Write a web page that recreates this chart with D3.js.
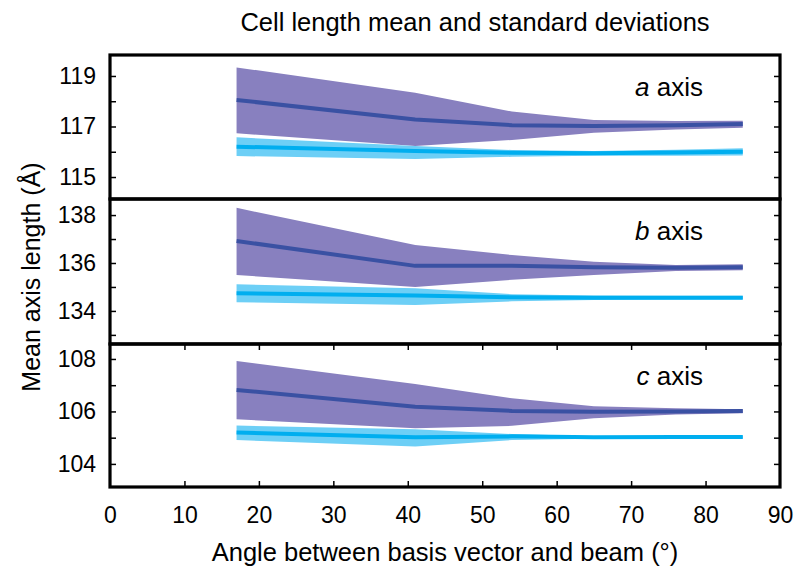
<!DOCTYPE html>
<html>
<head>
<meta charset="utf-8">
<script src="https://cdn.jsdelivr.net/npm/d3@7/dist/d3.min.js"></script>
<style>
  body { margin: 0; background: #fff; }
  svg { display: block; font-family: "Liberation Sans", Arial, Helvetica, sans-serif; }
</style>
</head>
<body>
<svg id="chart" width="796" height="567"></svg>
<script>
// ---- data ----
const angles = [17, 41, 54, 65, 76, 85];
const xTicks = [0, 10, 20, 30, 40, 50, 60, 70, 80, 90];

const panelNames = ["a", "b", "c"];
const panelDomains = [[114.13, 119.83], [132.62, 138.67], [103.12, 108.57]];
const panelMinorTicks = [[115, 116, 117, 118, 119], [133, 134, 135, 136, 137, 138], [104, 105, 106, 107, 108]];
const panelLabelTicks = [[115, 117, 119], [134, 136, 138], [104, 106, 108]];

const aMeanDark  = [118.05, 117.28, 117.05, 117.02, 117.05, 117.10];
const aUpperDark = [119.34, 118.34, 117.59, 117.26, 117.22, 117.23];
const aLowerDark = [116.73, 116.23, 116.47, 116.75, 116.88, 116.95];
const aMeanCyan  = [116.20, 116.03, 115.96, 115.94, 115.97, 116.00];
const aUpperCyan = [116.57, 116.23, 116.07, 116.03, 116.08, 116.14];
const aLowerCyan = [115.83, 115.71, 115.80, 115.84, 115.84, 115.85];

const bMeanDark  = [136.92, 135.88, 135.89, 135.82, 135.80, 135.82];
const bUpperDark = [138.30, 136.75, 136.33, 136.05, 135.92, 135.95];
const bLowerDark = [135.50, 135.00, 135.30, 135.50, 135.67, 135.70];
const bMeanCyan  = [134.74, 134.64, 134.57, 134.55, 134.55, 134.55];
const bUpperCyan = [135.11, 134.95, 134.70, 134.64, 134.63, 134.63];
const bLowerCyan = [134.36, 134.25, 134.40, 134.46, 134.48, 134.49];

const cMeanDark  = [106.82, 106.18, 106.02, 105.99, 106.00, 106.02];
const cUpperDark = [107.92, 107.05, 106.50, 106.20, 106.12, 106.08];
const cLowerDark = [105.70, 105.36, 105.45, 105.74, 105.88, 105.93];
const cMeanCyan  = [105.20, 105.02, 105.05, 105.02, 105.03, 105.03];
const cUpperCyan = [105.46, 105.32, 105.14, 105.05, 105.06, 105.07];
const cLowerCyan = [104.91, 104.66, 104.91, 104.96, 104.97, 104.97];

const series = [
  {dm: aMeanDark, du: aUpperDark, dl: aLowerDark, cm: aMeanCyan, cu: aUpperCyan, cl: aLowerCyan},
  {dm: bMeanDark, du: bUpperDark, dl: bLowerDark, cm: bMeanCyan, cu: bUpperCyan, cl: bLowerCyan},
  {dm: cMeanDark, du: cUpperDark, dl: cLowerDark, cm: cMeanCyan, cu: cUpperCyan, cl: cLowerCyan}
];

// ---- layout ----
const left = 110, right = 780;
const panelTops = [55, 199, 344];
const panelBottoms = [199, 344, 487];

const colDarkBand = "#8880bf";
const colDarkLine = "#3a51a3";
const colCyanBand = "#6dcff6";
const colCyanLine = "#00aeef";

const svg = d3.select("#chart");
const x = d3.scaleLinear().domain([0, 90]).range([left, right]);

// title
svg.append("text").attr("x", 475).attr("y", 31).attr("text-anchor", "middle")
  .attr("font-size", 25.5).attr("fill", "#000")
  .text("Cell length mean and standard deviations");

const defs = svg.append("defs");

panelNames.forEach((name, i) => {
  const top = panelTops[i], bottom = panelBottoms[i];
  const y = d3.scaleLinear().domain(panelDomains[i]).range([bottom, top]);
  const s = series[i];
  const g = svg.append("g");

  defs.append("clipPath").attr("id", "clip" + i)
    .append("rect").attr("x", left).attr("y", top).attr("width", right - left).attr("height", bottom - top);
  const plot = g.append("g").attr("clip-path", `url(#clip${i})`);

  const idx = d3.range(angles.length);
  const areaDark = d3.area().x(j => x(angles[j])).y0(j => y(s.dl[j])).y1(j => y(s.du[j]));
  const areaCyan = d3.area().x(j => x(angles[j])).y0(j => y(s.cl[j])).y1(j => y(s.cu[j]));
  const lineDark = d3.line().x(j => x(angles[j])).y(j => y(s.dm[j]));
  const lineCyan = d3.line().x(j => x(angles[j])).y(j => y(s.cm[j]));

  plot.append("path").attr("d", areaDark(idx)).attr("fill", colDarkBand);
  plot.append("path").attr("d", areaCyan(idx)).attr("fill", colCyanBand);
  plot.append("path").attr("d", lineDark(idx)).attr("fill", "none")
    .attr("stroke", colDarkLine).attr("stroke-width", 4).attr("stroke-linejoin", "round");
  plot.append("path").attr("d", lineCyan(idx)).attr("fill", "none")
    .attr("stroke", colCyanLine).attr("stroke-width", 4).attr("stroke-linejoin", "round");

  // left axis: inward ticks, labels outside
  const labeled = new Set(panelLabelTicks[i]);
  const axL = d3.axisLeft(y).tickValues(panelMinorTicks[i]).tickSizeInner(-6).tickSizeOuter(0)
    .tickPadding(14).tickFormat(d => labeled.has(d) ? d : "");
  const gl = g.append("g").attr("transform", `translate(${left},0)`).call(axL);
  gl.select(".domain").remove();
  gl.selectAll("line").attr("stroke", "#000").attr("stroke-width", 1.5);
  gl.selectAll("text").attr("font-size", 23).attr("fill", "#000")
    .attr("font-family", "Liberation Sans, Arial, sans-serif");

  const axR = d3.axisRight(y).tickValues(panelMinorTicks[i]).tickSizeInner(-6).tickSizeOuter(0).tickFormat("");
  const gr = g.append("g").attr("transform", `translate(${right},0)`).call(axR);
  gr.select(".domain").remove();
  gr.selectAll("line").attr("stroke", "#000").attr("stroke-width", 1.5);

  if (i === 2) {
    const axT = d3.axisTop(x).tickValues(xTicks.slice(1, -1)).tickSizeInner(-6).tickSizeOuter(0).tickFormat("");
    const gt = g.append("g").attr("transform", `translate(0,${top})`).call(axT);
    gt.select(".domain").remove();
    gt.selectAll("line").attr("stroke", "#000").attr("stroke-width", 1.5);
    const axB = d3.axisBottom(x).tickValues(xTicks).tickSizeInner(-6).tickSizeOuter(0).tickPadding(20);
    const gb = g.append("g").attr("transform", `translate(0,${bottom})`).call(axB);
    gb.select(".domain").remove();
    gb.selectAll("line").attr("stroke", "#000").attr("stroke-width", 1.5)
      .filter(d => d === 0 || d === 90).remove();
    gb.selectAll("text").attr("font-size", 23).attr("fill", "#000")
      .attr("font-family", "Liberation Sans, Arial, sans-serif");
  }

  // frame
  g.append("rect").attr("x", left).attr("y", top).attr("width", right - left).attr("height", bottom - top)
    .attr("fill", "none").attr("stroke", "#000").attr("stroke-width", 3.2);

  // panel label
  const t = g.append("text").attr("x", 703).attr("y", top + 41).attr("text-anchor", "end")
    .attr("font-size", 26).attr("fill", "#000");
  t.append("tspan").attr("font-style", "italic").text(name);
  t.append("tspan").text(" axis");
});

// axis titles
svg.append("text").attr("x", 445).attr("y", 561).attr("text-anchor", "middle")
  .attr("font-size", 25.5).attr("fill", "#000")
  .text("Angle between basis vector and beam (°)");
svg.append("text").attr("transform", "translate(40,277) rotate(-90)").attr("text-anchor", "middle")
  .attr("font-size", 25).attr("fill", "#000")
  .text("Mean axis length (Å)");
</script>
</body>
</html>
